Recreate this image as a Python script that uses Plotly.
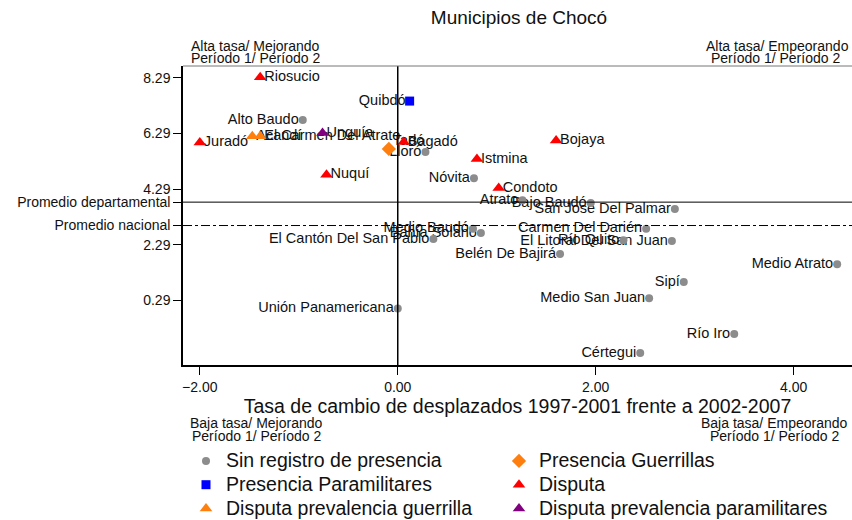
import plotly.graph_objects as go

# ---------------- data ----------------
municipios = [
    "Riosucio", "Quibdó", "Alto Baudo", "Juradó", "Acandí", "El Carmen Del Atrato",
    "Unguía", "Tadó", "Bagadó", "Lloró", "Bojaya", "Istmina", "Nóvita", "Nuquí",
    "Condoto", "Atrato", "Bajo Baudó", "San José Del Palmar", "Carmen Del Darién",
    "El Litoral Del San Juan", "Río Quito", "Medio Baudó", "Bahía Solano",
    "El Cantón Del San Pablo", "Belén De Bajirá", "Medio Atrato", "Sipí",
    "Medio San Juan", "Río Iro", "Cértegui", "Unión Panamericana",
]
tasa_cambio = [
    -1.39, 0.12, -0.96, -2.00, -1.47, -1.39,
    -0.76, -0.09, 0.06, 0.28, 1.60, 0.80, 0.77, -0.72,
    1.02, 1.26, 1.95, 2.80, 2.51,
    2.77, 2.28, 0.76, 0.84,
    0.36, 1.64, 4.44, 2.89,
    2.54, 3.40, 2.45, 0.00,
]
tasa_desplazados = [
    8.31, 7.45, 6.77, 5.96, 6.19, 6.19,
    6.30, 5.73, 5.98, 5.62, 6.03, 5.37, 4.68, 4.80,
    4.33, 3.89, 3.79, 3.57, 2.86,
    2.42, 2.45, 2.86, 2.71,
    2.50, 1.96, 1.59, 0.95,
    0.37, -0.92, -1.60, 0.00,
]
presencia = [
    "Disputa", "Presencia Paramilitares", "Sin registro de presencia", "Disputa",
    "Disputa prevalencia guerrilla", "Disputa prevalencia guerrilla",
    "Disputa prevalencia paramilitares", "Presencia Guerrillas", "Disputa",
    "Sin registro de presencia", "Disputa", "Disputa", "Sin registro de presencia", "Disputa",
    "Disputa", "Sin registro de presencia", "Sin registro de presencia", "Sin registro de presencia",
    "Sin registro de presencia", "Sin registro de presencia", "Sin registro de presencia",
    "Sin registro de presencia", "Sin registro de presencia", "Sin registro de presencia",
    "Sin registro de presencia", "Sin registro de presencia", "Sin registro de presencia",
    "Sin registro de presencia", "Sin registro de presencia", "Sin registro de presencia",
    "Sin registro de presencia",
]
categorias_col1 = ["Sin registro de presencia", "Presencia Paramilitares",
                   "Disputa prevalencia guerrilla"]
categorias_col2 = ["Presencia Guerrillas", "Disputa",
                   "Disputa prevalencia paramilitares"]
y_ticks = [8.29, 6.29, 4.29, 2.29, 0.29]
x_ticks = [-2.0, 0.0, 2.0, 4.0]
promedio_departamental = 3.82
promedio_nacional = 2.98
cambio_referencia = 0.0

# ---------------- styles ----------------
estilos = {
    "Sin registro de presencia": dict(symbol="circle", color="#8c8c8c", size=8),
    "Presencia Guerrillas": dict(symbol="diamond", color="#ff7f0e", size=11),
    "Presencia Paramilitares": dict(symbol="square", color="#0000ff", size=9),
    "Disputa": dict(symbol="triangle-up", color="#ff0000", size=11),
    "Disputa prevalencia guerrilla": dict(symbol="triangle-up", color="#ff7f0e", size=11),
    "Disputa prevalencia paramilitares": dict(symbol="triangle-up", color="#800080", size=11),
}
label_right = {"Riosucio", "Juradó", "Acandí", "El Carmen Del Atrato", "Unguía",
               "Bagadó", "Bojaya", "Istmina", "Nuquí", "Condoto"}
label_topright = {"Tadó"}

FONT = "Liberation Sans, Arial, sans-serif"
W, H = 852, 520
ML, MR, MT, MB = 183, 0, 66, 0
PLOT_BOTTOM = 365
PW, PH = W - ML - MR, H - MT - MB
Y_DOMAIN0 = (H - MB - PLOT_BOTTOM) / PH
NB = "\u00a0"


def px_x(px):
    return (px - ML) / PW


def px_y(py):
    return (H - MB - py) / PH


fig = go.Figure()


def pos(name):
    if name in label_topright:
        return "top right"
    if name in label_right:
        return "middle right"
    return "middle left"


def padded(name):
    return NB + name if pos(name).endswith("right") else name + NB


fig.add_trace(go.Scatter(
    x=tasa_cambio, y=tasa_desplazados, mode="text", text=[padded(n) for n in municipios],
    textposition=[pos(n) for n in municipios],
    textfont=dict(family=FONT, size=14.5, color="#111"),
    showlegend=False, hoverinfo="skip",
))

for legend_id, cats in (("legend", categorias_col1), ("legend2", categorias_col2)):
    for cat in cats:
        idx = [i for i, c in enumerate(presencia) if c == cat]
        st = estilos[cat]
        fig.add_trace(go.Scatter(
            x=[tasa_cambio[i] for i in idx], y=[tasa_desplazados[i] for i in idx],
            mode="markers", name=f'<span style="font-size:19.5px">{cat}</span>',
            legend=legend_id,
            marker=dict(symbol=st["symbol"], color=st["color"], size=st["size"], line=dict(width=0)),
            text=[municipios[i] for i in idx],
        ))

# reference lines
fig.add_shape(type="line", xref="x domain", x0=0, x1=1, yref="y",
              y0=promedio_departamental, y1=promedio_departamental,
              line=dict(color="black", width=1))
fig.add_shape(type="line", xref="x domain", x0=0, x1=1, yref="y",
              y0=promedio_nacional, y1=promedio_nacional,
              line=dict(color="black", width=1, dash="dashdot"))
fig.add_shape(type="line", yref="y domain", y0=0, y1=1, xref="x",
              x0=cambio_referencia, x1=cambio_referencia,
              line=dict(color="black", width=1.5))
fig.add_shape(type="line", xref="x domain", x0=0, x1=1, yref="y domain", y0=1, y1=1,
              line=dict(color="#777", width=1))

# corner annotations
corner = [
    ("Alta tasa/ Mejorando", 255, 46), ("Período 1/ Período 2", 255, 58),
    ("Alta tasa/ Empeorando", 777, 46), ("Período 1/ Período 2", 775, 58),
    ("Baja tasa/ Mejorando", 256, 423), ("Período 1/ Período 2", 256, 436),
    ("Baja tasa/ Empeorando", 774, 423), ("Período 1/ Período 2", 774, 436),
]
for txt, cx, cy in corner:
    fig.add_annotation(text=txt, xref="paper", yref="paper", x=px_x(cx), y=px_y(cy),
                       xanchor="center", yanchor="middle", showarrow=False,
                       font=dict(family=FONT, size=14, color="#111"))

legend_common = dict(orientation="v", yanchor="top", xanchor="left",
                     font=dict(family=FONT, size=16, color="#111"),
                     itemsizing="trace", bgcolor="rgba(0,0,0,0)", traceorder="normal",
                     borderwidth=0)

fig.update_layout(
    width=W, height=H,
    margin=dict(l=ML, r=MR, t=MT, b=MB, autoexpand=False),
    paper_bgcolor="white", plot_bgcolor="white",
    font=dict(family=FONT, color="#111"),
    title=dict(text="Municipios de Chocó", x=519 / W, xanchor="center",
               y=1 - 17 / H, yanchor="middle",
               font=dict(family=FONT, size=19, color="#111")),
    xaxis=dict(range=[-2.17, 4.59], tickvals=x_ticks, tickformat=".2f",
               showgrid=False, zeroline=False, showline=True, linecolor="black",
               linewidth=1.5, ticks="outside", ticklen=8, tickcolor="black",
               automargin=False,
               tickfont=dict(size=14, family=FONT, color="#111"),
               title=dict(text="Tasa de cambio de desplazados 1997-2001 frente a 2002-2007",
                          font=dict(size=19.5, family=FONT, color="#111"), standoff=6)),
    yaxis=dict(range=[-2.03, 8.71], domain=[Y_DOMAIN0, 1],
               tickvals=y_ticks + [promedio_departamental, promedio_nacional],
               ticktext=[f"{v:.2f}" for v in y_ticks] + ["Promedio departamental", "Promedio nacional"],
               showgrid=False, zeroline=False, showline=True, linecolor="black",
               linewidth=1.5, ticks="outside", ticklen=8, tickcolor="black",
               automargin=False,
               tickfont=dict(size=14, family=FONT, color="#111")),
    showlegend=True,
    legend=dict(x=px_x(186), y=px_y(444), **legend_common),
    legend2=dict(x=px_x(499), y=px_y(444), **legend_common),
)

post = """
document.body.style.margin = '0px';
function unclipLegends() {
  document.querySelectorAll('g.scrollbox').forEach(function (g) {
    g.removeAttribute('clip-path');
  });
}
unclipLegends();
setTimeout(unclipLegends, 50);
setTimeout(unclipLegends, 300);
"""

fig.write_html("out.html", config={"displayModeBar": False}, post_script=post)
